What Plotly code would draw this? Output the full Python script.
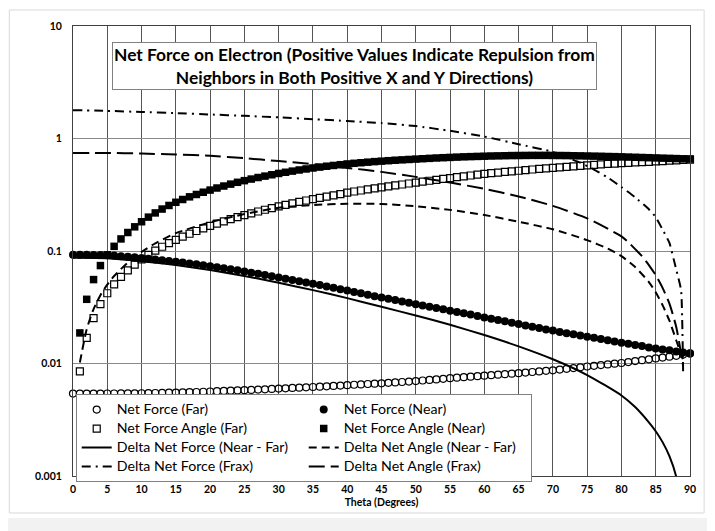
import plotly.graph_objects as go

theta = list(range(0, 91))

net_force_far = [
    0.00540, 0.00540, 0.00540, 0.00540, 0.00540, 0.00541, 0.00541, 0.00542, 0.00542, 0.00543,
    0.00544, 0.00545, 0.00547, 0.00548, 0.00550, 0.00552, 0.00554, 0.00556, 0.00558, 0.00561,
    0.00564, 0.00567, 0.00570, 0.00573, 0.00576, 0.00579, 0.00582, 0.00586, 0.00590, 0.00594,
    0.00598, 0.00602, 0.00606, 0.00610, 0.00614, 0.00618, 0.00622, 0.00627, 0.00632, 0.00637,
    0.00642, 0.00647, 0.00652, 0.00657, 0.00662, 0.00667, 0.00673, 0.00679, 0.00685, 0.00691,
    0.00698, 0.00706, 0.00714, 0.00722, 0.00731, 0.00740, 0.00748, 0.00756, 0.00764, 0.00772,
    0.00780, 0.00788, 0.00796, 0.00804, 0.00812, 0.00820, 0.00830, 0.00840, 0.00850, 0.00860,
    0.00870, 0.00883, 0.00896, 0.00910, 0.00925, 0.00940, 0.00954, 0.00968, 0.00982, 0.00996,
    0.01010, 0.01030, 0.01050, 0.01070, 0.01090, 0.01110, 0.01130, 0.01150, 0.01170, 0.01200,
    0.01230,
]

net_force_near = [
    0.0925, 0.0925, 0.0924, 0.0923, 0.0921, 0.0918, 0.0910, 0.0900, 0.0890, 0.0879,
    0.0867, 0.0854, 0.0842, 0.0829, 0.0817, 0.0804, 0.0790, 0.0775, 0.0761, 0.0747,
    0.0733, 0.0718, 0.0703, 0.0688, 0.0673, 0.0658, 0.0642, 0.0627, 0.0612, 0.0597,
    0.0582, 0.0568, 0.0553, 0.0539, 0.0525, 0.0511, 0.0498, 0.0484, 0.0471, 0.0458,
    0.0445, 0.0433, 0.0421, 0.0409, 0.0397, 0.0386, 0.0376, 0.0366, 0.0356, 0.0346,
    0.0337, 0.0328, 0.0320, 0.0311, 0.0303, 0.0295, 0.0287, 0.0279, 0.0272, 0.0264,
    0.0257, 0.0250, 0.0243, 0.0237, 0.0230, 0.0224, 0.0218, 0.0212, 0.0207, 0.0201,
    0.0196, 0.0191, 0.0186, 0.0182, 0.0177, 0.0173, 0.0169, 0.0165, 0.0161, 0.0157,
    0.0153, 0.0150, 0.0146, 0.0143, 0.0139, 0.0136, 0.0133, 0.0131, 0.0128, 0.0125,
    0.0123,
]

angle_far = [
    None, 0.0085, 0.0169, 0.0253, 0.0337, 0.0421, 0.0505, 0.0589, 0.0673, 0.0757,
    0.0841, 0.0924, 0.1008, 0.1091, 0.1174, 0.1257, 0.1340, 0.1423, 0.1506, 0.1589,
    0.1672, 0.1754, 0.1836, 0.1918, 0.2000, 0.2082, 0.2164, 0.2245, 0.2326, 0.2407,
    0.2488, 0.2569, 0.2650, 0.2730, 0.2810, 0.2890, 0.2970, 0.3049, 0.3128, 0.3207,
    0.330, 0.338, 0.345, 0.353, 0.360, 0.368, 0.375, 0.383, 0.390, 0.398,
    0.405, 0.413, 0.421, 0.429, 0.437, 0.445, 0.453, 0.461, 0.469, 0.477,
    0.485, 0.492, 0.498, 0.505, 0.511, 0.517, 0.523, 0.530, 0.536, 0.542,
    0.548, 0.554, 0.560, 0.566, 0.572, 0.578, 0.583, 0.589, 0.594, 0.599,
    0.604, 0.608, 0.613, 0.617, 0.621, 0.625, 0.630, 0.635, 0.640, 0.645,
    0.650,
]

angle_near = [
    None, 0.0187, 0.0372, 0.0557, 0.0742, 0.0925, 0.110, 0.128, 0.146, 0.164,
    0.182, 0.200, 0.218, 0.236, 0.254, 0.271, 0.287, 0.303, 0.318, 0.333,
    0.348, 0.363, 0.378, 0.393, 0.408, 0.422, 0.436, 0.450, 0.463, 0.476,
    0.489, 0.501, 0.513, 0.525, 0.536, 0.547, 0.557, 0.567, 0.576, 0.585,
    0.594, 0.602, 0.609, 0.616, 0.623, 0.629, 0.635, 0.641, 0.646, 0.651,
    0.656, 0.661, 0.666, 0.671, 0.675, 0.679, 0.683, 0.687, 0.690, 0.693,
    0.696, 0.699, 0.701, 0.703, 0.705, 0.706, 0.707, 0.708, 0.708, 0.708,
    0.707, 0.706, 0.705, 0.703, 0.701, 0.699, 0.697, 0.695, 0.692, 0.690,
    0.687, 0.684, 0.681, 0.678, 0.675, 0.672, 0.669, 0.666, 0.663, 0.660,
    0.657,
]

# Line series (read at selected angles)
delta_force_theta = [0, 5, 10, 15, 20, 25, 30, 35, 40, 45, 50, 55, 60, 65, 70, 75, 80, 82, 84, 85, 86, 87, 88, 89]
delta_force = [0.0870, 0.0863, 0.0812, 0.0749, 0.0677, 0.0600, 0.0522, 0.0449, 0.0381, 0.0319,
               0.0267, 0.0221, 0.0179, 0.0142, 0.0109, 0.0079, 0.0052, 0.0041, 0.0030, 0.0025,
               0.0020, 0.0015, 0.00098, 0.0004]

delta_angle_theta = [1, 2, 3, 4, 5, 6, 8, 10, 12, 15, 20, 25, 30, 35, 40, 45, 50, 55, 60, 65, 70, 75, 78, 80, 82, 84, 85, 86, 87, 88, 89]
delta_angle = [0.0102, 0.0202, 0.0304, 0.0405, 0.0503, 0.060, 0.079, 0.098, 0.117, 0.144,
               0.180, 0.213, 0.242, 0.256, 0.263, 0.262, 0.250, 0.232, 0.209, 0.182,
               0.156, 0.125, 0.105, 0.090, 0.072, 0.053, 0.043, 0.033, 0.024, 0.0160, 0.0108]

frax_force_theta = [0, 5, 10, 15, 20, 25, 30, 35, 40, 45, 50, 55, 60, 65, 70, 72, 74, 76, 78, 80, 82, 84, 85, 86, 87, 88, 88.7, 89]
frax_force = [1.785, 1.76, 1.72, 1.68, 1.635, 1.59, 1.54, 1.485, 1.43, 1.37,
              1.29, 1.17, 1.04, 0.89, 0.76, 0.68, 0.61, 0.53, 0.45, 0.37,
              0.30, 0.235, 0.20, 0.155, 0.118, 0.068, 0.045, 0.0081]

frax_angle_theta = [0, 5, 10, 15, 20, 25, 30, 35, 40, 45, 50, 55, 60, 65, 70, 75, 80, 81, 82, 83, 84, 85, 86, 87, 88, 89]
frax_angle = [0.745, 0.744, 0.735, 0.721, 0.701, 0.668, 0.630, 0.591, 0.548, 0.505,
              0.456, 0.406, 0.357, 0.305, 0.252, 0.195, 0.135, 0.120, 0.104, 0.090,
              0.075, 0.061, 0.047, 0.034, 0.021, 0.0095]

x_ticks = list(range(0, 91, 5))
y_tickvals = [0.001, 0.01, 0.1, 1, 10]
y_ticktext = ["0.001", "0.01", "0.1", "1", "10"]

FONT = "Lato"
BLACK = "#000000"


def legend_name(s):
    return '<span style="font-size:14.2px">' + s + '</span>'


fig = go.Figure()

fig.add_trace(go.Scatter(
    x=theta, y=net_force_far, mode="markers", name=legend_name("Net Force (Far)"),
    marker=dict(symbol="circle-open", size=7, color=BLACK, line=dict(width=1.2, color=BLACK)),
    cliponaxis=False))
fig.add_trace(go.Scatter(
    x=theta, y=net_force_near, mode="markers", name=legend_name("Net Force (Near)"),
    marker=dict(symbol="circle", size=8, color=BLACK), cliponaxis=False))
fig.add_trace(go.Scatter(
    x=theta, y=angle_far, mode="markers", name=legend_name("Net Force Angle (Far)"),
    marker=dict(symbol="square-open", size=7, color=BLACK, line=dict(width=1.2, color=BLACK)),
    cliponaxis=False))
fig.add_trace(go.Scatter(
    x=theta, y=angle_near, mode="markers", name=legend_name("Net Force Angle (Near)"),
    marker=dict(symbol="square", size=7.5, color=BLACK), cliponaxis=False))
fig.add_trace(go.Scatter(
    x=delta_force_theta, y=delta_force, mode="lines", name=legend_name("Delta Net Force (Near - Far)"),
    line=dict(color=BLACK, width=2, shape="spline", smoothing=0.6)))
fig.add_trace(go.Scatter(
    x=delta_angle_theta, y=delta_angle, mode="lines", name=legend_name("Delta Net Angle (Near - Far)"),
    line=dict(color=BLACK, width=2, dash="8px,5px", shape="spline", smoothing=0.6)))
fig.add_trace(go.Scatter(
    x=frax_force_theta, y=frax_force, mode="lines", name=legend_name("Delta Net Force (Frax)"),
    line=dict(color=BLACK, width=2, dash="9px,5px,2px,5px", shape="spline", smoothing=0.4)))
fig.add_trace(go.Scatter(
    x=frax_angle_theta, y=frax_angle, mode="lines", name=legend_name("Delta Net Angle (Frax)"),
    line=dict(color=BLACK, width=2, dash="16px,6px", shape="spline", smoothing=0.6)))

fig.update_layout(
    width=700, height=523,
    margin=dict(l=65, r=15, t=18, b=55),
    paper_bgcolor="white", plot_bgcolor="white",
    font=dict(family=FONT, color=BLACK),
    showlegend=True,
    legend=dict(
        orientation="h", x=0.0044, y=0.182, xanchor="left", yanchor="top",
        bgcolor="white", bordercolor="#808080", borderwidth=1,
        font=dict(family=FONT, size=11.2, color=BLACK),
        entrywidth=182, entrywidthmode="pixels", traceorder="normal",
        itemwidth=30,
    ),
    xaxis=dict(
        range=[0, 90], tickvals=x_ticks, ticktext=[str(v) for v in x_ticks],
        showgrid=True, gridcolor="#555555", gridwidth=1,
        showline=True, linecolor="#404040", linewidth=1, mirror=True,
        zeroline=False, ticks="", ticklabelstandoff=3,
        tickfont=dict(family=FONT, size=10.5, weight="bold", color=BLACK),
        title=dict(text="Theta (Degrees)", font=dict(family=FONT, size=10.5, weight="bold", color=BLACK), standoff=5),
    ),
    yaxis=dict(
        type="log", range=[-3, 1], tickvals=y_tickvals, ticktext=y_ticktext,
        showgrid=True, gridcolor="#8a8a8a", gridwidth=1,
        showline=True, linecolor="#404040", linewidth=1, mirror=True,
        zeroline=False, ticks="", ticklabelstandoff=8,
        tickfont=dict(family=FONT, size=10.5, weight="bold", color=BLACK),
    ),
)

# Title box
fig.add_annotation(
    xref="paper", yref="paper", x=0.4568, y=0.911, xanchor="center", yanchor="middle",
    text="<b>Net Force on Electron (Positive Values Indicate Repulsion from<br>Neighbors in Both Positive X and Y Directions)</b>",
    showarrow=False, align="center",
    font=dict(family=FONT, size=17.4, color=BLACK),
    bgcolor="white", bordercolor="#808080", borderwidth=1, borderpad=1,
)

# Outer chart frame and page chrome
fig.add_shape(type="rect", xref="paper", yref="paper", x0=-0.1032, x1=1.0229, y0=-0.0822, y1=1.0356,
              line=dict(color="#d9d9d9", width=1), fillcolor="rgba(0,0,0,0)", layer="below")
fig.add_shape(type="rect", xref="paper", yref="paper", x0=-0.2, x1=1.2, y0=-0.13, y1=-0.0933,
              line=dict(width=0), fillcolor="#f2f2f2")

fig.write_html("out.html")
